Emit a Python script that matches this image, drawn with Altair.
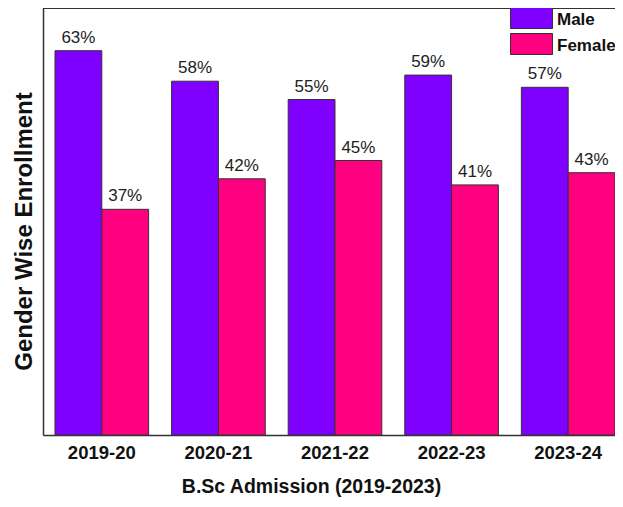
import altair as alt
import pandas as pd

years = ["2019-20", "2020-21", "2021-22", "2022-23", "2023-24"]
male = [63, 58, 55, 59, 57]
female = [37, 42, 45, 41, 43]
genders = ["Male", "Female"]
colors = ["#8000FF", "#FF0080"]

rows = []
for i, yr in enumerate(years):
    rows.append({"year": yr, "gender": "Male", "value": male[i]})
    rows.append({"year": yr, "gender": "Female", "value": female[i]})
df = pd.DataFrame(rows)

FONT = "Liberation Sans"
INK = "#111"
FRAME = "#333"

x = alt.X(
    "year:N", sort=years,
    scale=alt.Scale(paddingInner=0.197, paddingOuter=0.103, range=[0, 584]),
    axis=alt.Axis(
        title="B.Sc Admission (2019-2023)", labelAngle=0, ticks=False,
        domain=True, domainColor=FRAME, domainWidth=1.5,
        labelFont=FONT, labelFontSize=18.5, labelFontWeight="bold", labelColor=INK,
        labelPadding=8,
        titleFont=FONT, titleFontSize=19.5, titleFontWeight="bold", titleColor=INK,
        titlePadding=16, titleX=268,
    ),
)
xoff = alt.XOffset("gender:N", sort=genders, scale=alt.Scale(paddingInner=0, paddingOuter=0))
y = alt.Y(
    "value:Q", scale=alt.Scale(domain=[0, 70], nice=False),
    axis=alt.Axis(
        title="Gender Wise Enrollment", labels=False, ticks=False, grid=False,
        domain=True, domainColor=FRAME, domainWidth=1.5,
        titleFont=FONT, titleFontSize=24, titleFontWeight="bold", titleColor=INK,
        titlePadding=7, titleY=223,
    ),
)
color = alt.Color(
    "gender:N", sort=genders,
    scale=alt.Scale(domain=genders, range=colors),
    legend=alt.Legend(
        title=None, orient="none", legendX=467, legendY=-1,
        symbolType="M-1,-1H1V0H-1Z", symbolSize=1764,
        symbolStrokeColor=FRAME, symbolStrokeWidth=1, symbolOpacity=1,
        labelFont=FONT, labelFontSize=17, labelFontWeight="bold", labelColor=INK,
        labelBaseline="bottom", labelOffset=4, rowPadding=0, padding=0,
    ),
)

bars = alt.Chart(df).mark_bar(stroke=FRAME, strokeWidth=1).encode(
    x=x, xOffset=xoff, y=y, color=color
)
text = alt.Chart(df).transform_calculate(
    label="datum.value + '%'"
).mark_text(
    baseline="bottom", dy=-4, font=FONT, fontSize=17, color="#222"
).encode(x=x, xOffset=xoff, y=y, text="label:N")

top_line = alt.Chart(df).mark_rule(color=FRAME, strokeWidth=1.5).encode(
    y=alt.value(0)
)

chart = alt.layer(bars, text, top_line).properties(
    width=572, height=427,
    padding={"left": 35, "top": 0, "right": 0, "bottom": 64},
    autosize=alt.AutoSizeParams(type="none"),
).configure_view(stroke=None)

chart.save("out.html", embed_options={"renderer": "svg", "actions": False})
